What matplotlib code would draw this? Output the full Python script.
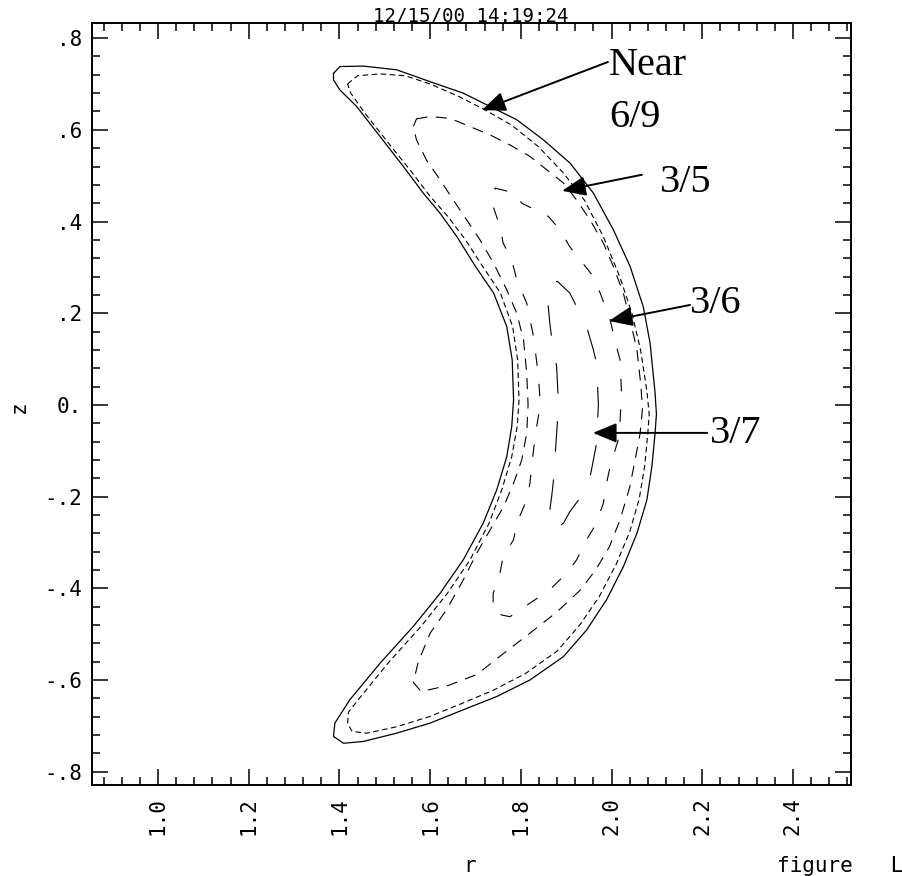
import matplotlib
matplotlib.use("Agg")
import matplotlib.pyplot as plt
from matplotlib.ticker import MultipleLocator

# outer flux surface (solid), r and z
s_r = [1.387, 1.401, 1.453, 1.526, 1.600, 1.673, 1.732, 1.791, 1.850, 1.909,
       1.960, 2.004, 2.041, 2.070, 2.085, 2.096, 2.099, 2.096, 2.089, 2.078,
       2.056, 2.026, 1.989, 1.945, 1.894, 1.820, 1.747, 1.673, 1.600, 1.526,
       1.453, 1.409, 1.387, 1.390, 1.423, 1.490, 1.563, 1.622, 1.673, 1.717,
       1.747, 1.769, 1.780, 1.784, 1.781, 1.769, 1.740, 1.700, 1.659, 1.622,
       1.585, 1.541, 1.490, 1.438, 1.401, 1.387, 1.387]
s_z = [0.723, 0.738, 0.739, 0.731, 0.705, 0.680, 0.651, 0.622, 0.578, 0.527,
       0.462, 0.382, 0.302, 0.214, 0.135, 0.026, -0.020, -0.062, -0.134, -0.207,
       -0.280, -0.353, -0.425, -0.491, -0.549, -0.600, -0.636, -0.665, -0.694, -0.716,
       -0.734, -0.738, -0.723, -0.694, -0.643, -0.563, -0.483, -0.411, -0.338, -0.258,
       -0.185, -0.113, -0.047, 0.011, 0.098, 0.171, 0.244, 0.302, 0.367, 0.418,
       0.462, 0.520, 0.585, 0.651, 0.687, 0.709, 0.723]

# "near 6/9" surface, fine dashes hugging the boundary
a_r = [1.418, 1.440, 1.490, 1.545, 1.600, 1.665, 1.722, 1.780, 1.838, 1.893,
       1.940, 1.982, 2.018, 2.045, 2.064, 2.078, 2.083, 2.080, 2.073, 2.061,
       2.040, 2.010, 1.973, 1.930, 1.880, 1.810, 1.740, 1.668, 1.598, 1.526,
       1.460, 1.428, 1.418, 1.420, 1.448, 1.510, 1.580, 1.638, 1.688, 1.730,
       1.758, 1.780, 1.792, 1.796, 1.793, 1.782, 1.755, 1.716, 1.678, 1.640,
       1.600, 1.556, 1.505, 1.455, 1.425, 1.418]
a_z = [0.700, 0.718, 0.722, 0.718, 0.700, 0.672, 0.643, 0.610, 0.564, 0.507,
       0.447, 0.367, 0.280, 0.200, 0.120, 0.030, -0.020, -0.062, -0.134, -0.205,
       -0.277, -0.348, -0.418, -0.480, -0.537, -0.586, -0.622, -0.652, -0.680, -0.702,
       -0.716, -0.712, -0.695, -0.670, -0.635, -0.560, -0.483, -0.411, -0.338, -0.258,
       -0.185, -0.113, -0.047, 0.011, 0.098, 0.171, 0.244, 0.302, 0.360, 0.410,
       0.455, 0.512, 0.575, 0.638, 0.680, 0.700]

# 3/5 surface
b_r = [1.570, 1.600, 1.644, 1.688, 1.732, 1.776, 1.820, 1.857, 1.894, 1.923,
       1.953, 1.982, 2.004, 2.026, 2.041, 2.056, 2.065, 2.068, 2.063, 2.052,
       2.040, 2.019, 1.995, 1.965, 1.930, 1.879, 1.820, 1.762, 1.703, 1.640,
       1.580, 1.563, 1.574, 1.600, 1.636, 1.673, 1.703, 1.732, 1.762, 1.784,
       1.802, 1.813, 1.816, 1.813, 1.806, 1.791, 1.769, 1.740, 1.710, 1.681,
       1.651, 1.622, 1.592, 1.570, 1.563, 1.570]
b_z = [0.624, 0.629, 0.625, 0.607, 0.589, 0.567, 0.542, 0.513, 0.484, 0.447,
       0.403, 0.353, 0.302, 0.244, 0.185, 0.120, 0.040, -0.010, -0.062, -0.120,
       -0.180, -0.250, -0.310, -0.360, -0.405, -0.452, -0.498, -0.542, -0.588, -0.612,
       -0.625, -0.605, -0.560, -0.498, -0.447, -0.382, -0.323, -0.273, -0.222, -0.171,
       -0.120, -0.062, 0.000, 0.069, 0.142, 0.200, 0.251, 0.309, 0.360, 0.403,
       0.447, 0.491, 0.534, 0.578, 0.607, 0.624]

# 3/6 surface
c_r = [1.743, 1.787, 1.802, 1.861, 1.886, 1.908, 1.931, 1.960, 1.975, 1.997,
       2.011, 2.019, 2.022, 2.017, 2.008, 1.997, 1.989, 1.982, 1.967, 1.945,
       1.923, 1.901, 1.864, 1.842, 1.798, 1.776, 1.739, 1.739, 1.754, 1.761,
       1.784, 1.791, 1.813, 1.820, 1.828, 1.835, 1.843, 1.839, 1.828, 1.813,
       1.791, 1.780, 1.761, 1.754, 1.739, 1.743]
c_z = [0.473, 0.462, 0.440, 0.411, 0.382, 0.345, 0.316, 0.280, 0.244, 0.185,
       0.127, 0.098, 0.025, -0.069, -0.098, -0.134, -0.171, -0.214, -0.258, -0.294,
       -0.338, -0.367, -0.403, -0.418, -0.447, -0.462, -0.454, -0.411, -0.367, -0.331,
       -0.294, -0.258, -0.207, -0.171, -0.098, -0.047, 0.000, 0.062, 0.149, 0.222,
       0.273, 0.316, 0.353, 0.389, 0.433, 0.473]

# 3/7 surface (innermost)
d_r = [1.880, 1.908, 1.945, 1.960, 1.967, 1.971, 1.967, 1.953, 1.938, 1.908,
       1.894, 1.876, 1.861, 1.868, 1.872, 1.879, 1.883, 1.879, 1.870, 1.864,
       1.857, 1.880]
d_z = [0.270, 0.244, 0.171, 0.120, 0.091, 0.000, -0.084, -0.156, -0.193, -0.233,
       -0.258, -0.269, -0.251, -0.200, -0.164, -0.062, 0.000, 0.084, 0.130, 0.178,
       0.251, 0.270]

xticks = [1.0, 1.2, 1.4, 1.6, 1.8, 2.0, 2.2, 2.4]
xtick_labels = ['1.0', '1.2', '1.4', '1.6', '1.8', '2.0', '2.2', '2.4']
yticks = [-0.8, -0.6, -0.4, -0.2, 0.0, 0.2, 0.4, 0.6, 0.8]
ytick_labels = ['-.8', '-.6', '-.4', '-.2', '0.', '.2', '.4', '.6', '.8']

# annotation texts: (label, text position, arrow start, arrow tip)
notes = [
    ('Near', (1.994, 0.720), (1.992, 0.748), (1.714, 0.643)),
    ('3/5', (2.107, 0.465), (2.067, 0.502), (1.891, 0.467)),
    ('3/6', (2.173, 0.201), (2.173, 0.218), (1.994, 0.183)),
    ('3/7', (2.217, -0.083), (2.211, -0.061), (1.959, -0.061)),
]

mono = 'DejaVu Sans Mono'
serif = 'Liberation Serif'
plt.rcParams['lines.scale_dashes'] = False

W, H = 903, 876
fig = plt.figure(figsize=(W / 100, H / 100), dpi=100)
ax = fig.add_axes([92 / W, 1 - 785 / H, (851 - 92) / W, (785 - 23) / H])

ax.plot(s_r, s_z, color='k', lw=0.9)
ax.plot(a_r, a_z, color='k', lw=0.8, linestyle=(0, (4, 2.5)))
ax.plot(b_r, b_z, color='k', lw=0.8, linestyle=(0, (8, 6)))
ax.plot(c_r, c_z, color='k', lw=0.8, linestyle=(0, (9, 13)))
ax.plot(d_r, d_z, color='k', lw=0.8, linestyle=(0, (22, 20)))

ax.set_xlim(0.8545, 2.528)
ax.set_ylim(-0.829, 0.833)

ax.set_xticks(xticks)
ax.set_xticklabels(xtick_labels, rotation=90, fontfamily=mono, fontsize=15)
ax.set_yticks(yticks)
ax.set_yticklabels(ytick_labels, fontfamily=mono, fontsize=15)
ax.xaxis.set_minor_locator(MultipleLocator(0.04))
ax.yaxis.set_minor_locator(MultipleLocator(0.04))
ax.tick_params(which='both', direction='in', top=True, right=True, width=1.1, color='k')
ax.tick_params(which='major', length=11.5)
ax.tick_params(which='minor', length=5.8)
ax.tick_params(axis='x', pad=8.5)
ax.tick_params(axis='y', pad=7)
for sp in ax.spines.values():
    sp.set_linewidth(1.4)

for label, txt_pos, start, tip in notes:
    ax.text(txt_pos[0], txt_pos[1], label, fontfamily=serif, fontsize=29,
            ha='left', va='baseline')
    ax.annotate('', xy=tip, xytext=start,
                arrowprops=dict(arrowstyle='-|>,head_length=1.45,head_width=0.6',
                                mutation_scale=10, lw=1.4, color='k',
                                shrinkA=0, shrinkB=0))
ax.text(1.994, 0.606, '6/9', fontfamily=serif, fontsize=29, ha='left', va='baseline')

fig.text(471 / W, 1 - 22 / H, '12/15/00 14:19:24', fontfamily=mono, fontsize=13.8,
         ha='center', va='baseline')
fig.text(19 / W, 1 - 407 / H, 'z', fontfamily=mono, fontsize=15, rotation=90,
         ha='center', va='center')
fig.text(470 / W, 1 - 872 / H, 'r', fontfamily=mono, fontsize=15,
         ha='center', va='baseline')
fig.text(777 / W, 1 - 872 / H, 'figure   L', fontfamily=mono, fontsize=15,
         ha='left', va='baseline')

fig.savefig('out.png', dpi=100)
